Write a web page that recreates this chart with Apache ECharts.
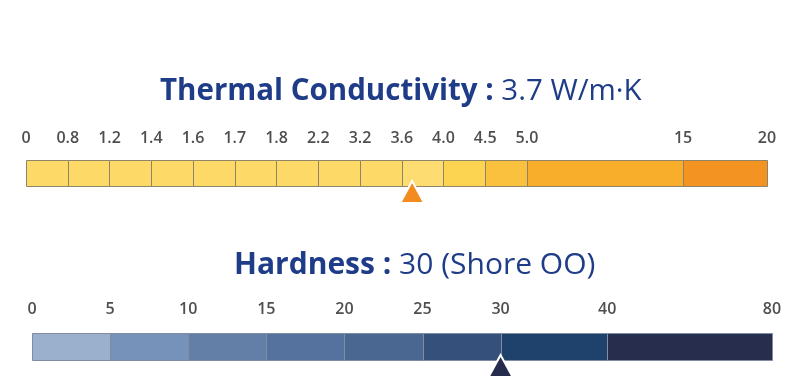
<!DOCTYPE html>
<html>
<head>
<meta charset="utf-8">
<script src="https://cdn.jsdelivr.net/npm/echarts@6/dist/echarts.min.js"></script>
<style>
html,body{margin:0;padding:0;background:#fff;}
#chart{width:807px;height:392px;}
</style>
</head>
<body>
<div id="chart"></div>
<script>
// ---------- DATA ----------
const tcTitle = 'Thermal Conductivity :';
const tcUnitText = '3.7 W/m·K';
const tcTickLabels = ['0', '0.8', '1.2', '1.4', '1.6', '1.7', '1.8', '2.2', '3.2', '3.6', '4.0', '4.5', '5.0', '15', '20'];
const tcTickValues = [0, 0.8, 1.2, 1.4, 1.6, 1.7, 1.8, 2.2, 3.2, 3.6, 4.0, 4.5, 5.0, 15, 20];
const tcValue = 3.7;

const hdTitle = 'Hardness :';
const hdUnitText = '30 (Shore OO)';
const hdTickLabels = ['0', '5', '10', '15', '20', '25', '30', '40', '80'];
const hdTickValues = [0, 5, 10, 15, 20, 25, 30, 40, 80];
const hdValue = 30;

// ---------- LAYOUT / STYLE ----------
// relative width of each segment on the (non-linear) scale
const tcSegWeights = [1, 1, 1, 1, 1, 1, 1, 1, 1, 1, 1, 1, 3.74, 2.01];
const hdSegWeights = [1, 1, 1, 1, 1, 1, 1.365, 2.11];
const tcColors = ['#FDD968', '#FDD968', '#FDD968', '#FDD968', '#FDD968', '#FDD968', '#FDD968', '#FDD968', '#FDD968', '#FDDC72', '#FCD452', '#FAC13E', '#F8AE2A', '#F39322'];
const hdColors = ['#9AB0CC', '#7691BA', '#637FA8', '#55719D', '#496791', '#35507A', '#1F426C', '#272D4D'];
const tcMarkerColor = '#F28C1E';
const hdMarkerColor = '#262C4C';
const titleColor = '#1F3C88';
const labelColor = '#4F4F4F';

function cumulative(weights) {
  const out = [0];
  weights.forEach(w => out.push(out[out.length - 1] + w));
  return out;
}
const tcSlots = cumulative(tcSegWeights);
const hdSlots = cumulative(hdSegWeights);

function valueToSlot(v, ticks, slots) {
  for (let i = 0; i < ticks.length - 1; i++) {
    if (v >= ticks[i] && v <= ticks[i + 1]) {
      const t = (v - ticks[i]) / (ticks[i + 1] - ticks[i]);
      return slots[i] + t * (slots[i + 1] - slots[i]);
    }
  }
  return slots[slots.length - 1];
}

function segData(slots) {
  const d = [];
  for (let i = 0; i < slots.length - 1; i++) d.push([slots[i], slots[i + 1], i]);
  return d;
}

function segSeries(gridIdx, slots, colors, stroke) {
  return {
    type: 'custom',
    xAxisIndex: gridIdx, yAxisIndex: gridIdx,
    data: segData(slots),
    silent: true,
    renderItem: function (params, api) {
      const p0 = api.coord([api.value(0), 1]);
      const p1 = api.coord([api.value(1), 0]);
      return {
        type: 'rect',
        shape: { x: Math.round(p0[0]) + 0.5, y: Math.round(p0[1]) + 0.5, width: Math.round(p1[0]) - Math.round(p0[0]), height: Math.round(p1[1]) - Math.round(p0[1]) },
        style: { fill: colors[api.value(2)], stroke: stroke, lineWidth: 1 }
      };
    }
  };
}

function labelSeries(gridIdx, slots, labels, offsetY) {
  return {
    type: 'custom',
    xAxisIndex: gridIdx, yAxisIndex: gridIdx,
    data: slots.map((s, i) => [s, i]),
    silent: true,
    clip: false,
    renderItem: function (params, api) {
      const p = api.coord([api.value(0), 1]);
      return {
        type: 'text',
        x: p[0], y: p[1] + offsetY,
        style: {
          text: labels[api.value(1)],
          fill: labelColor,
          font: '600 16px "Open Sans"',
          align: 'center',
          verticalAlign: 'middle'
        }
      };
    }
  };
}

function markerSeries(gridIdx, slot, color, w, h, inset) {
  return {
    type: 'custom',
    xAxisIndex: gridIdx, yAxisIndex: gridIdx,
    data: [[slot, 0]],
    silent: true,
    clip: false,
    z: 5,
    renderItem: function (params, api) {
      const p = api.coord([api.value(0), 0]);
      const tipY = p[1] - inset;
      return {
        type: 'polygon',
        shape: { points: [[p[0], tipY], [p[0] - w / 2, tipY + h], [p[0] + w / 2, tipY + h]] },
        style: { fill: color, stroke: '#ffffff', lineWidth: 2, lineJoin: 'miter' }
      };
    }
  };
}

const tcTotal = tcSlots[tcSlots.length - 1];
const hdTotal = hdSlots[hdSlots.length - 1];

const chart = echarts.init(document.getElementById('chart'), null, { renderer: 'canvas' });
const option = {
  backgroundColor: '#ffffff',
  animation: false,
  title: [
    {
      text: '{b|' + tcTitle + '}{r| ' + tcUnitText + '}',
      left: 155, top: 72,
      textStyle: {
        rich: {
          b: { fontFamily: 'Open Sans', fontWeight: 'bold', fontSize: 29.5, color: titleColor },
          r: { fontFamily: 'Open Sans', fontWeight: 'normal', fontSize: 29.5, color: titleColor }
        }
      }
    },
    {
      text: '{b|' + hdTitle + '}{r| ' + hdUnitText + '}',
      left: 229, top: 245,
      textStyle: {
        rich: {
          b: { fontFamily: 'Open Sans', fontWeight: 'bold', fontSize: 30, color: titleColor },
          r: { fontFamily: 'Open Sans', fontWeight: 'normal', fontSize: 30, color: titleColor }
        }
      }
    }
  ],
  grid: [
    { left: 26, right: 40, top: 160, height: 26 },
    { left: 32, right: 35, top: 333, height: 27 }
  ],
  xAxis: [
    { gridIndex: 0, type: 'value', min: 0, max: tcTotal, show: false },
    { gridIndex: 1, type: 'value', min: 0, max: hdTotal, show: false }
  ],
  yAxis: [
    { gridIndex: 0, type: 'value', min: 0, max: 1, show: false },
    { gridIndex: 1, type: 'value', min: 0, max: 1, show: false }
  ],
  series: [
    segSeries(0, tcSlots, tcColors, '#8F8468'),
    labelSeries(0, tcSlots, tcTickLabels, -22),
    markerSeries(0, valueToSlot(tcValue, tcTickValues, tcSlots), tcMarkerColor, 24, 22, 5),
    segSeries(1, hdSlots, hdColors, '#7F8DA3'),
    labelSeries(1, hdSlots, hdTickLabels, -24),
    markerSeries(1, valueToSlot(hdValue, hdTickValues, hdSlots), hdMarkerColor, 24, 22, 5)
  ]
};
chart.setOption(option);
</script>
</body>
</html>
